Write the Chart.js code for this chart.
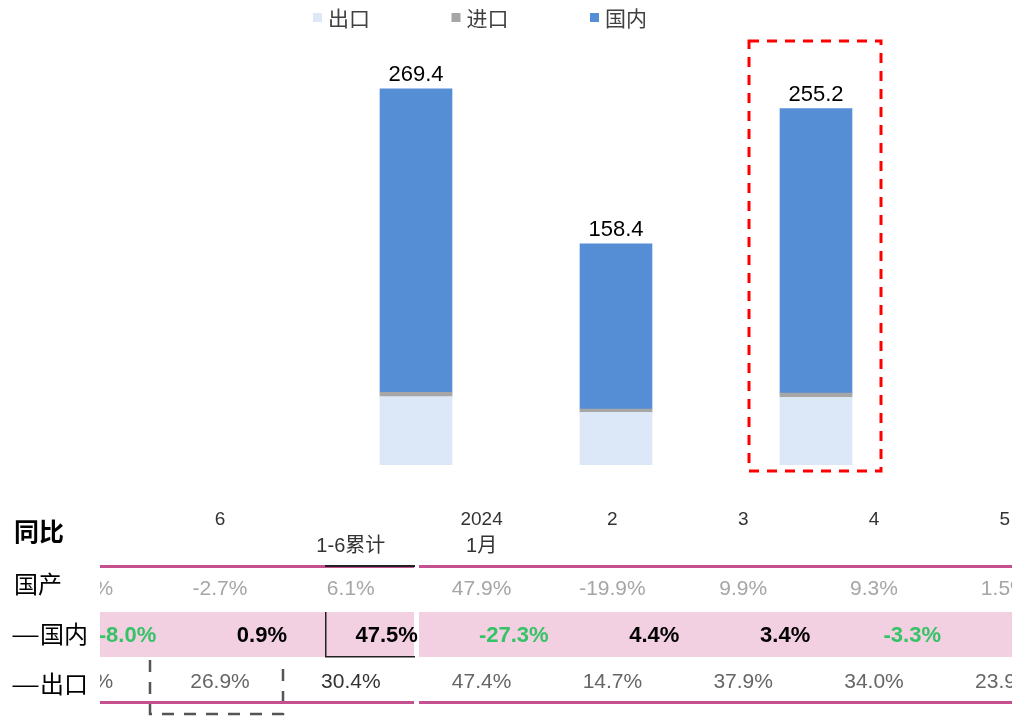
<!DOCTYPE html>
<html><head><meta charset="utf-8">
<script src="https://cdn.jsdelivr.net/npm/chart.js@4.4.1/dist/chart.umd.min.js"></script>
<style>html,body{margin:0;padding:0;background:#fff;overflow:hidden}#wrap{width:1012px;height:718px;position:relative}</style>
</head><body><div id="wrap"><canvas id="c" width="1012" height="718"></canvas></div>
<script>
// ---- data ----
const seriesNames = ['出口', '进口', '国内'];
const seriesColors = ['#dce8f8', '#a6a6a6', '#558ed5'];
const barMonths = ['2024年3月', '2024年2月', '2024年6月'];
const exportVals = [48.9, 37.7, 48.5];
const importVals = [3.1, 2.4, 3.0];
const domesticVals = [217.4, 118.3, 203.7];

const tableHeadTop = ['', '6', '', '2024', '2', '3', '4', '5'];
const tableHeadBottom = ['', '', '1-6累计', '1月', '', '', '', ''];
const rowNames = ['国产', '—国内', '—出口'];
const yoyTotal = ['3.1%', '-2.7%', '6.1%', '47.9%', '-19.9%', '9.9%', '9.3%', '1.5%'];
const yoyDomestic = ['-8.0%', '0.9%', '47.5%', '-27.3%', '4.4%', '3.4%', '-3.3%', ''];
const yoyExport = ['2.0%', '26.9%', '30.4%', '47.4%', '14.7%', '37.9%', '34.0%', '23.9%'];

const NUM = '"Liberation Sans", Arial, "Noto Sans CJK SC", sans-serif';
const CJK = '"Noto Sans CJK SC", "Liberation Sans", sans-serif';

const deco = {
  id: 'deco',
  afterDatasetsDraw(chart) {
    const ctx = chart.ctx;
    const ys = chart.scales.y;
    const xt = chart.scales.xt;
    const colX = i => xt.getPixelForValue(i);
    const topMeta = chart.getDatasetMeta(2);
    ctx.save();
    // total labels above the stacks
    ctx.font = '22px ' + NUM;
    ctx.fillStyle = '#000';
    ctx.textAlign = 'center';
    ctx.textBaseline = 'middle';
    topMeta.data.forEach((el, i) => {
      const t = exportVals[i] + importVals[i] + domesticVals[i];
      ctx.fillText(t.toFixed(1), el.x, el.y - 14);
    });
    // red dashed highlight box around the last bar
    const hb = topMeta.data[2];
    ctx.strokeStyle = '#ff0000';
    ctx.lineWidth = 3;
    ctx.setLineDash([10, 8]);
    ctx.strokeRect(hb.x - 67, chart.chartArea.top - 5, 132, ys.getPixelForValue(0) + 6 - (chart.chartArea.top - 5));
    ctx.setLineDash([]);

    // legend
    ctx.font = '21px ' + CJK;
    ctx.textAlign = 'left';
    seriesNames.forEach((n, i) => {
      const x0 = 313 + i * 138.5;
      ctx.fillStyle = seriesColors[i];
      ctx.fillRect(x0, 13, 9, 9);
      ctx.fillStyle = '#404040';
      ctx.fillText(n, x0 + 15, 18);
    });

    // ---- table ----
    ctx.fillStyle = '#000';
    ctx.font = 'bold 25px ' + CJK;
    ctx.fillText('同比', 14, 531);
    ctx.font = '24px ' + CJK;
    const rowY = [584, 634, 684];
    rowNames.forEach((n, r) => {
      if (r === 0) { ctx.fillText(n, 14, rowY[r]); return; }
      ctx.save();
      ctx.translate(11, rowY[r]);
      ctx.scale(1.35, 1);
      ctx.fillText(n[0], 0, 0);
      ctx.restore();
      ctx.fillText(n.slice(1), 40, rowY[r]);
    });

    ctx.save();
    ctx.beginPath();
    ctx.rect(100, 480, 912, 238);
    ctx.clip();

    // gray dashed box around column "6"
    const c1 = colX(1);
    ctx.strokeStyle = '#555';
    ctx.lineWidth = 2.5;
    ctx.setLineDash([12, 10]);
    ctx.beginPath();
    ctx.moveTo(c1 - 70, 660); ctx.lineTo(c1 - 70, 714); ctx.lineTo(c1 + 63, 714); ctx.lineTo(c1 + 63, 660);
    ctx.stroke();
    ctx.setLineDash([]);

    // pink band for 国内 row
    ctx.fillStyle = '#f2d0e2';
    ctx.fillRect(100, 612, 314, 45);
    ctx.fillRect(419, 612, 593, 45);
    // horizontal rules
    ctx.fillStyle = '#c4508f';
    ctx.fillRect(100, 565, 314, 3);
    ctx.fillRect(419, 565, 593, 3);
    ctx.fillRect(100, 701, 314, 3);
    ctx.fillRect(419, 701, 593, 3);
    // dark border around the 1-6累计 domestic cell
    ctx.fillStyle = '#222';
    ctx.fillRect(325, 565, 90, 2);
    ctx.fillRect(325, 612, 1.5, 45);
    ctx.fillRect(325, 656, 90, 1.5);

    // header labels
    ctx.textAlign = 'center';
    ctx.fillStyle = '#333';
    ctx.font = '19px ' + NUM;
    tableHeadTop.forEach((t, i) => { if (t) ctx.fillText(t, colX(i), 520); });
    ctx.font = '20px ' + NUM;
    tableHeadBottom.forEach((t, i) => { if (t) ctx.fillText(t, colX(i), 546); });

    // row 国产
    ctx.font = '21px ' + NUM;
    ctx.fillStyle = '#a6a6a6';
    yoyTotal.forEach((t, i) => ctx.fillText(t, colX(i), 589));
    // row 国内 (bold, right-aligned, green for negatives)
    ctx.font = 'bold 22px ' + NUM;
    ctx.textAlign = 'right';
    yoyDomestic.forEach((t, i) => {
      if (!t) return;
      ctx.fillStyle = t.startsWith('-') ? '#36c266' : '#000';
      ctx.fillText(t, colX(i) + 67, 636);
    });
    // row 出口
    ctx.textAlign = 'center';
    ctx.font = '21px ' + NUM;
    yoyExport.forEach((t, i) => {
      ctx.fillStyle = i === 2 ? '#333' : '#666';
      ctx.fillText(t, colX(i), 682);
    });
    ctx.restore();
    ctx.restore();
  }
};

new Chart(document.getElementById('c'), {
  type: 'bar',
  data: {
    datasets: [
      { label: seriesNames[0], data: exportVals.map((v, i) => ({ x: i + 1, y: v })), backgroundColor: seriesColors[0] },
      { label: seriesNames[1], data: importVals.map((v, i) => ({ x: i + 1, y: v })), backgroundColor: seriesColors[1] },
      { label: seriesNames[2], data: domesticVals.map((v, i) => ({ x: i + 1, y: v })), backgroundColor: seriesColors[2] }
    ]
  },
  options: {
    responsive: false,
    animation: false,
    events: [],
    barThickness: 72,
    layout: { padding: { left: 100, right: 0, top: 46, bottom: 253 } },
    plugins: { legend: { display: false }, tooltip: { enabled: false }, title: { display: false } },
    scales: {
      x: { type: 'linear', offset: false, stacked: true, display: false, min: -0.58, max: 3.98,
           ticks: { stepSize: 1, callback: v => barMonths[v - 1] || '' } },
      y: { stacked: true, display: false, min: 0, max: 300 },
      xt: { type: 'linear', axis: 'x', offset: false, position: 'bottom', display: false, min: 0.0826, max: 7.055 }
    }
  },
  plugins: [deco]
});
</script>
</body></html>
